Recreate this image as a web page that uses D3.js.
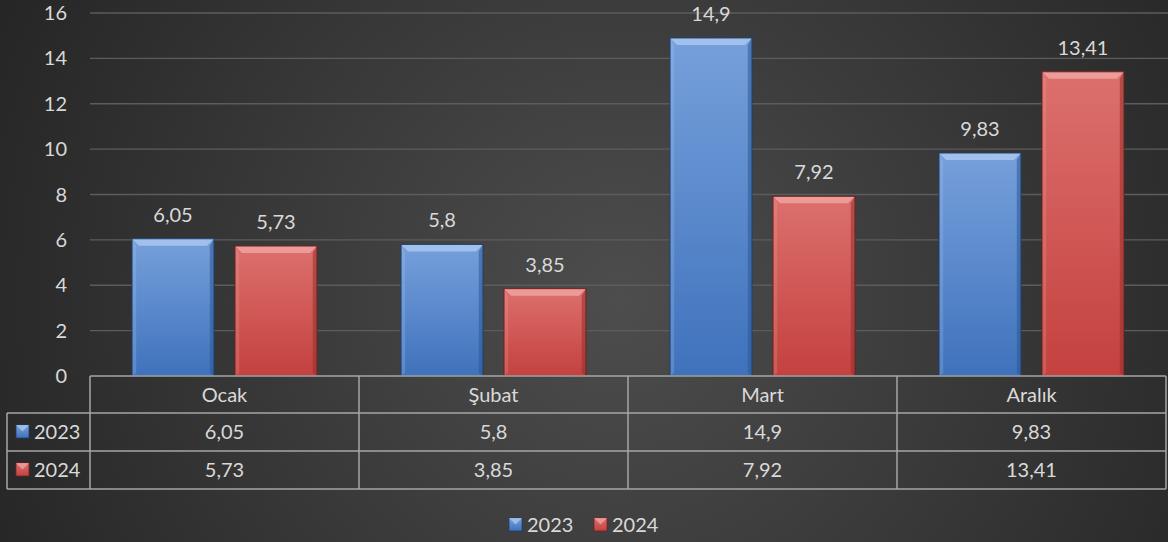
<!DOCTYPE html>
<html>
<head>
<meta charset="utf-8">
<script src="https://cdn.jsdelivr.net/npm/d3@7"></script>
<style>
  html, body { margin: 0; padding: 0; background: #333; }
  svg { display: block; }
</style>
</head>
<body>
<script>
// chart data
const categories = ["Ocak", "Şubat", "Mart", "Aralık"];
const seriesNames = ["2023", "2024"];
const values2023 = [6.05, 5.8, 14.9, 9.83];
const values2024 = [5.73, 3.85, 7.92, 13.41];
const yTicks = [0, 2, 4, 6, 8, 10, 12, 14, 16];

const width = 1168, height = 542;
const fontFam = "Lato, 'Noto Sans', sans-serif";
const fontSize = 20;
const textCol = "#d9d9d9";
const fmt = v => String(v).replace(".", ",");

const series = [
  { name: seriesNames[0], values: values2023, top: "#76a0db", bottom: "#3f72bc", light: "#a9c6ef", dark: "#2c5794", edge: "#1f3f6e" },
  { name: seriesNames[1], values: values2024, top: "#dc706d", bottom: "#c4413e", light: "#f0a3a0", dark: "#93302e", edge: "#6e2321" }
];

const svg = d3.select("body").append("svg")
  .attr("width", width)
  .attr("height", height);

const defs = svg.append("defs");
const bg = defs.append("radialGradient").attr("id", "bg")
  .attr("gradientUnits", "userSpaceOnUse")
  .attr("cx", 620).attr("cy", 300).attr("r", 680);
bg.append("stop").attr("offset", 0).attr("stop-color", "#4d4d4d");
bg.append("stop").attr("offset", 1).attr("stop-color", "#262626");

series.forEach((s, i) => {
  const g = defs.append("linearGradient").attr("id", "bar" + i)
    .attr("x1", 0).attr("y1", 0).attr("x2", 0).attr("y2", 1);
  g.append("stop").attr("offset", 0).attr("stop-color", s.top);
  g.append("stop").attr("offset", 1).attr("stop-color", s.bottom);
});

svg.append("rect").attr("width", width).attr("height", height).attr("fill", "url(#bg)");

const plotLeft = 90, plotRight = 1166;
const y = d3.scaleLinear().domain([0, 16]).range([376, 13]);
const x0 = d3.scaleBand().domain(categories).range([plotLeft, plotRight]);
const x1 = d3.scaleBand().domain(seriesNames).range([0, x0.bandwidth()])
  .paddingInner(0.204).paddingOuter(0.408);

// gridlines
svg.append("g").selectAll("line").data(yTicks.filter(d => d > 0)).join("line")
  .attr("x1", plotLeft).attr("x2", width)
  .attr("y1", d => y(d)).attr("y2", d => y(d))
  .attr("stroke", "#5c5c5c").attr("stroke-width", 1.3);

// y axis labels
svg.append("g").selectAll("text").data(yTicks).join("text")
  .attr("x", 67).attr("y", d => y(d))
  .attr("dy", "0.35em")
  .attr("text-anchor", "end")
  .attr("font-family", fontFam).attr("font-size", fontSize)
  .attr("fill", textCol)
  .text(d => d);

// bars with bevel
const bev = 7;
series.forEach((s, si) => {
  const g = svg.append("g");
  categories.forEach((c, ci) => {
    const v = s.values[ci];
    const bx = x0(c) + x1(s.name), bw = x1.bandwidth();
    const by = y(v), bh = y(0) - y(v);
    const bar = g.append("g");
    bar.append("rect").attr("x", bx).attr("y", by).attr("width", bw).attr("height", bh)
      .attr("fill", "url(#bar" + si + ")");
    // top bevel
    bar.append("polygon")
      .attr("points", [[bx, by], [bx + bw, by], [bx + bw - bev, by + bev], [bx + bev, by + bev]].join(" "))
      .attr("fill", s.light).attr("opacity", 0.85);
    // left bevel
    bar.append("polygon")
      .attr("points", [[bx, by], [bx + bev * 0.6, by + bev], [bx + bev * 0.6, by + bh - 3], [bx, by + bh]].join(" "))
      .attr("fill", s.light).attr("opacity", 0.25);
    // right bevel
    bar.append("polygon")
      .attr("points", [[bx + bw, by], [bx + bw - bev * 0.6, by + bev], [bx + bw - bev * 0.6, by + bh - 3], [bx + bw, by + bh]].join(" "))
      .attr("fill", s.dark).attr("opacity", 0.55);
    bar.append("rect").attr("x", bx).attr("y", by).attr("width", bw).attr("height", bh)
      .attr("fill", "none").attr("stroke", s.edge).attr("stroke-width", 1);
    // value label
    g.append("text")
      .attr("x", bx + bw / 2).attr("y", by - 17)
      .attr("text-anchor", "middle")
      .attr("font-family", fontFam).attr("font-size", fontSize)
      .attr("fill", textCol)
      .text(fmt(v));
  });
});

// data table
const rowTop = [376, 413, 451, 489];
const tableLeft = 7;
const tbl = svg.append("g").attr("stroke", "#a6a6a6").attr("stroke-width", 1.5).attr("fill", "none");
// horizontal lines
tbl.append("line").attr("x1", plotLeft).attr("x2", plotRight).attr("y1", rowTop[0]).attr("y2", rowTop[0]);
rowTop.slice(1).forEach(r => {
  tbl.append("line").attr("x1", tableLeft).attr("x2", plotRight).attr("y1", r).attr("y2", r);
});
// vertical lines
tbl.append("line").attr("x1", tableLeft).attr("x2", tableLeft).attr("y1", rowTop[1]).attr("y2", rowTop[3]);
categories.forEach(c => {
  tbl.append("line").attr("x1", x0(c)).attr("x2", x0(c)).attr("y1", rowTop[0]).attr("y2", rowTop[3]);
});
tbl.append("line").attr("x1", plotRight).attr("x2", plotRight).attr("y1", rowTop[0]).attr("y2", rowTop[3]);

// header texts
svg.append("g").selectAll("text").data(categories).join("text")
  .attr("x", d => x0(d) + x0.bandwidth() / 2)
  .attr("y", (rowTop[0] + rowTop[1]) / 2).attr("dy", "0.35em")
  .attr("text-anchor", "middle")
  .attr("font-family", fontFam).attr("font-size", fontSize)
  .attr("fill", textCol)
  .text(d => d);

function legendKey(g, s, si, kx, ky) {
  const k = 13;
  g.append("rect").attr("x", kx).attr("y", ky).attr("width", k).attr("height", k)
    .attr("fill", "url(#bar" + si + ")").attr("stroke", s.edge).attr("stroke-width", 0.8);
  g.append("polygon")
    .attr("points", [[kx, ky], [kx + k, ky], [kx + k / 2, ky + k / 2]].join(" "))
    .attr("fill", s.light).attr("opacity", 0.8);
}

series.forEach((s, si) => {
  const rt = rowTop[si + 1], rb = rowTop[si + 2];
  const g = svg.append("g");
  legendKey(g, s, si, 16, (rt + rb) / 2 - 7);
  g.append("text").attr("x", 34).attr("y", (rt + rb) / 2).attr("dy", "0.35em")
    .attr("font-family", fontFam).attr("font-size", fontSize).attr("fill", textCol)
    .text(s.name);
  g.selectAll("text.v").data(s.values).join("text")
    .attr("class", "v")
    .attr("x", (d, i) => x0(categories[i]) + x0.bandwidth() / 2)
    .attr("y", (rt + rb) / 2).attr("dy", "0.35em")
    .attr("text-anchor", "middle")
    .attr("font-family", fontFam).attr("font-size", fontSize).attr("fill", textCol)
    .text(d => fmt(d));
});

// bottom legend
const leg = svg.append("g");
[ { x: 509 }, { x: 594 } ].forEach((p, si) => {
  legendKey(leg, series[si], si, p.x, 518);
  leg.append("text").attr("x", p.x + 18).attr("y", 525).attr("dy", "0.35em")
    .attr("font-family", fontFam).attr("font-size", fontSize).attr("fill", textCol)
    .text(series[si].name);
});
</script>
</body>
</html>
